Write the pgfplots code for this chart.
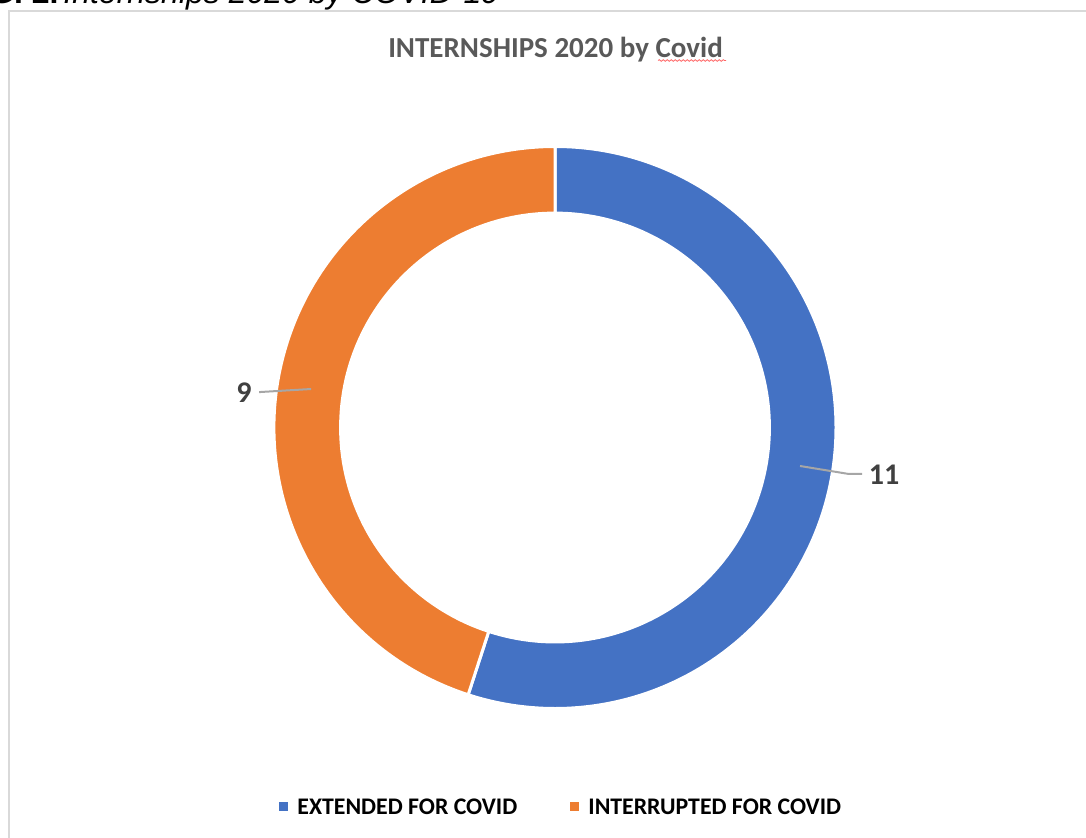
\documentclass[border=0pt]{standalone}
\usepackage{pgfplots}
\pgfplotsset{compat=1.18}
\usepackage{pgfplotstable}
\usepackage{fontspec}
\setmainfont{Carlito}
\newfontfamily\arialfont{Liberation Sans}
\usetikzlibrary{decorations.pathmorphing}
\definecolor{exblue}{HTML}{4472C4}
\definecolor{inorange}{HTML}{ED7D31}
\definecolor{titlegray}{HTML}{595959}
\definecolor{labelgray}{HTML}{404040}
\definecolor{leadergray}{HTML}{A6A6A6}
\definecolor{framegray}{HTML}{D9D9D9}

\pgfplotstableread{
name value
Extended 11
Interrupted 9
}\donutdata

\begin{document}
\begin{tikzpicture}
\pgfplotstablegetelem{0}{value}\of\donutdata \pgfmathsetmacro{\vA}{\pgfplotsretval}
\pgfplotstablegetelem{1}{value}\of\donutdata \pgfmathsetmacro{\vB}{\pgfplotsretval}
\pgfmathsetmacro{\aA}{90-360*\vA/(\vA+\vB)}
\pgfmathsetmacro{\aB}{\aA-360*\vB/(\vA+\vB)}
\def\ri{0.763}
\begin{scope}[x=0.5pt,y=0.5pt]
\path[use as bounding box] (0,0) rectangle (1086,837);
\begin{scope}
\clip (0,0) rectangle (1086,837);
\draw[framegray, line width=1pt] (8.5,826) rectangle (1200,-50);
\node[anchor=base east, inner sep=0pt, font=\arialfont\bfseries\fontsize{16}{18}\selectfont] at (59,833) {FIG. 2.};
\node[anchor=base west, inner sep=0pt, font=\arialfont\itshape\fontsize{16}{18}\selectfont] at (63,833) {Internships 2020 by COVID-19};
\end{scope}
% title
\node[anchor=base, inner sep=0pt, text=titlegray, font=\bfseries\fontsize{14.5}{17}\selectfont] at (555.5,779) {INTERNSHIPS 2020 by Covid};
\draw[red!60, line width=0.4pt, decorate, decoration={snake, amplitude=0.4pt, segment length=2pt}] (658,776.5) -- (726,776.5);
% legend
\fill[exblue] (279,26) rectangle (288,35);
\node[anchor=base west, inner sep=0pt, font=\bfseries\fontsize{11.9}{14}\selectfont, text=black] at (297,23) {EXTENDED FOR COVID};
\fill[inorange] (570,26) rectangle (579,35);
\node[anchor=base west, inner sep=0pt, font=\bfseries\fontsize{11.9}{14}\selectfont, text=black] at (588,23) {INTERRUPTED FOR COVID};
\end{scope}
% donut
\begin{axis}[at={(277.5pt,204.75pt)}, anchor=center, width=281pt, height=281pt, scale only axis,
  xmin=-1, xmax=1, ymin=-1, ymax=1, hide axis, clip=false]
\filldraw[fill=exblue, draw=white, line width=1.5pt]
  (axis cs:{cos(90)},{sin(90)}) arc[start angle=90, end angle=\aA, radius=1]
  -- (axis cs:{\ri*cos(\aA)},{\ri*sin(\aA)}) arc[start angle=\aA, end angle=90, radius=\ri] -- cycle;
\filldraw[fill=inorange, draw=white, line width=1.5pt]
  (axis cs:{cos(\aA)},{sin(\aA)}) arc[start angle=\aA, end angle=\aB, radius=1]
  -- (axis cs:{\ri*cos(\aB)},{\ri*sin(\aB)}) arc[start angle=\aB, end angle=\aA, radius=\ri] -- cycle;
% leader lines and labels
\draw[leadergray, line width=1pt] (axis cs:0.872,-0.137) -- (axis cs:1.043,-0.165) -- (axis cs:1.093,-0.165);
\draw[leadergray, line width=1pt] (axis cs:-0.868,0.137) -- (axis cs:-1.053,0.126);
\node[text=labelgray, font=\bfseries\fontsize{15}{18}\selectfont, inner sep=0pt] at (axis cs:1.171,-0.169) {11};
\node[text=labelgray, font=\bfseries\fontsize{15}{18}\selectfont, inner sep=0pt] at (axis cs:-1.107,0.123) {9};
\end{axis}
\end{tikzpicture}
\end{document}
